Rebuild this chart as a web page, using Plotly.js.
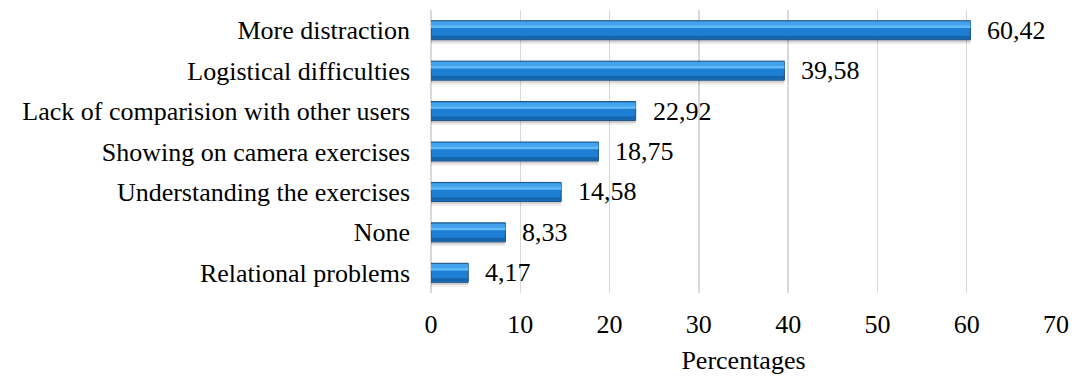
<!DOCTYPE html>
<html>
<head>
<meta charset="utf-8">
<script src="https://cdn.plot.ly/plotly-3.0.1.min.js"></script>
<style>
  html, body { margin: 0; padding: 0; background: #ffffff; }
  #chart { width: 1077px; height: 376px; }
</style>
</head>
<body>
<div id="chart"></div>
<script>
// Difficulties reported with online exercise sessions (% of respondents)
const categories = [
  'More distraction',
  'Logistical difficulties',
  'Lack of comparision with other users',
  'Showing on camera exercises',
  'Understanding the exercises',
  'None',
  'Relational problems'
];
const percentages = [60.42, 39.58, 22.92, 18.75, 14.58, 8.33, 4.17];
const valueLabels = ['60,42', '39,58', '22,92', '18,75', '14,58', '8,33', '4,17'];
const xTickValues = [0, 10, 20, 30, 40, 50, 60, 70];

const FONT = '"Times New Roman", "Liberation Serif", "DejaVu Serif", serif';
const BAR_W = 0.47;
const HALF = BAR_W / 2;

// One horizontal bar layer; several stacked layers give the bevelled look.
function layer(offset, width, color, lineColor, lineWidth) {
  return {
    type: 'bar',
    orientation: 'h',
    x: percentages,
    y: categories,
    offset: offset,
    width: width,
    marker: {
      color: color,
      line: { color: lineColor || 'rgba(0,0,0,0)', width: lineWidth || 0 }
    },
    hoverinfo: 'skip',
    showlegend: false
  };
}

const traces = [
  // soft drop shadow
  layer(-HALF + 0.11, BAR_W, 'rgba(0,0,0,0.07)'),
  layer(-HALF + 0.06, BAR_W, 'rgba(0,0,0,0.13)'),
  // body
  layer(-HALF, BAR_W, '#1e7ed4', '#1d4f80', 1),
  // upper bevel
  layer(-HALF + 0.02, 0.15, '#42a2ec'),
  // bright stripe
  layer(-HALF + 0.12, 0.06, '#62bbf8'),
  // lower bevel
  layer(HALF - 0.10, 0.08, '#1565ad')
];

const annotations = percentages.map((v, i) => ({
  x: v,
  y: categories[i],
  xref: 'x',
  yref: 'y',
  text: valueLabels[i],
  showarrow: false,
  xanchor: 'left',
  xshift: 15,
  font: { family: FONT, size: 26, color: '#000000' }
}));

const layout = {
  width: 1077,
  height: 376,
  margin: { l: 431, r: 21, t: 10, b: 83 },
  paper_bgcolor: '#ffffff',
  plot_bgcolor: '#ffffff',
  barmode: 'overlay',
  font: { family: FONT, size: 26, color: '#000000' },
  xaxis: {
    range: [0, 70],
    tickvals: xTickValues,
    ticktext: xTickValues.map(String),
    showgrid: true,
    gridcolor: '#d9d9d9',
    gridwidth: 1.5,
    zeroline: true,
    zerolinecolor: '#d9d9d9',
    zerolinewidth: 1.5,
    showline: false,
    ticks: '',
    ticklabelstandoff: 13,
    tickfont: { family: FONT, size: 26, color: '#000000' },
    title: { text: 'Percentages', font: { family: FONT, size: 26, color: '#000000' }, standoff: 12 },
    fixedrange: true
  },
  yaxis: {
    type: 'category',
    autorange: 'reversed',
    showgrid: false,
    zeroline: false,
    showline: false,
    ticks: '',
    ticklabelstandoff: 20,
    tickfont: { family: FONT, size: 26, color: '#000000' },
    fixedrange: true
  },
  annotations: annotations
};

Plotly.newPlot('chart', traces, layout, { staticPlot: true, displayModeBar: false });
</script>
</body>
</html>
